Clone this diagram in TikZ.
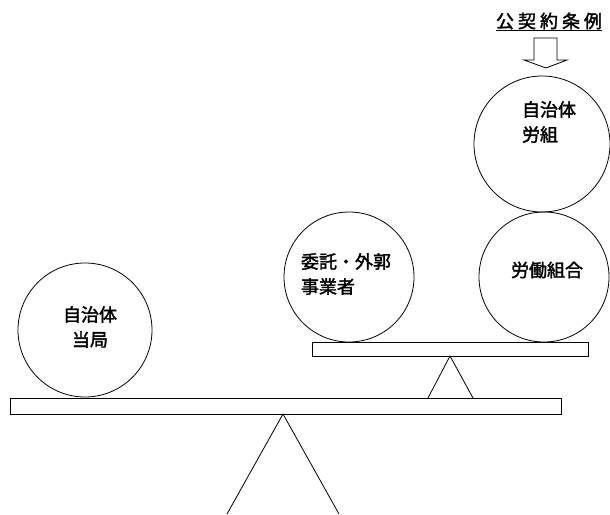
\documentclass[tikz,border=0pt]{standalone}
\usepackage{fontspec}
\usepackage{tikz}
\newfontfamily\jpfont[FakeBold=2]{Noto Sans CJK JP}

\tikzset{
  ball/.style={draw, circle, line width=0.8pt, inner sep=0pt},
  jptext/.style={font=\jpfont\fontsize{18}{25}\selectfont, inner sep=0pt},
  plank/.style={draw, line width=0.8pt},
}

\begin{document}
\begin{tikzpicture}[x=1pt,y=-1pt]
		\useasboundingbox (0,0) rectangle (610,514);
		% the two beams and their stands
		\draw[plank] (10,398) rectangle (561,414);
		\draw[plank] (312,342) rectangle (588,356);
		\draw[line width=0.8pt] (227,514) -- (283,414) -- (339,514);
		\draw[line width=0.8pt] (428,398) -- (450,356) -- (473,398);
		
		\node[ball, minimum size=134] (authority) at (85,330) {};
		\node[ball, minimum size=130] (contractor) at (349,277) {};
		\node[ball, minimum size=130] (union) at (544,277) {};
		\node[ball, minimum size=136] (munion) at (542,144) {};
		
		\node[jptext, align=center] (authoritytxt) at (90,327) {自治体\\当局};
		\node[jptext, align=left] (contractortxt) at (346,274) {委託・外郭\\事業者};
		\node[jptext] (uniontxt) at (547,270) {労働組合};
		\node[jptext, align=left] (muniontxt) at (549,122) {自治体\\労組};
		
		% ordinance on top
		\node[jptext] (ordinance) at (549,21) {公\hspace{4pt}契\hspace{4pt}約\hspace{4pt}条\hspace{4pt}例};
		\draw[line width=0.8pt] ([yshift=-1pt]ordinance.south west) -- ([yshift=-1pt]ordinance.south east);
		\draw[line width=0.8pt] (534,38) -- (557,38) -- (557,60) -- (567,60) -- (546,68)
			-- (524,60) -- (534,60) -- cycle;
		
\end{tikzpicture}
\end{document}
